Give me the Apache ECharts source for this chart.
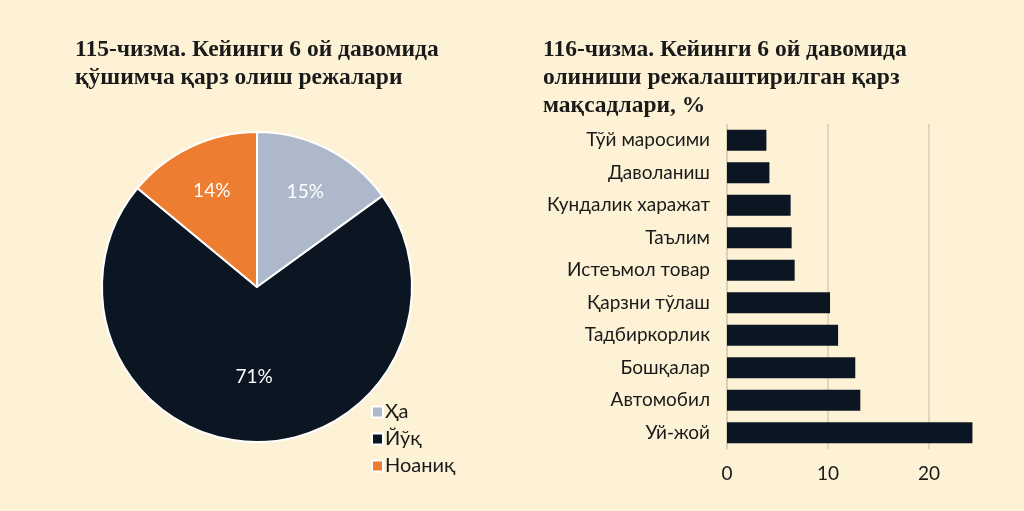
<!DOCTYPE html>
<html>
<head>
<meta charset="utf-8">
<script src="https://cdn.jsdelivr.net/npm/echarts@6/dist/echarts.min.js"></script>
<style>
  html, body { margin: 0; padding: 0; background: #fdf2d5; }
  #chart { width: 1024px; height: 511px; }
</style>
</head>
<body>
<div id="chart"></div>
<script>
// pie: 115-чизма
const pieNames = ['Ҳа', 'Йўқ', 'Ноаниқ'];
const pieValues = [15, 71, 14];
const pieColors = ['#adb9ca', '#0b1622', '#ed7d31'];

// bar: 116-чизма
const barCategories = [
  'Тўй маросими',
  'Даволаниш',
  'Кундалик харажат',
  'Таълим',
  'Истеъмол товар',
  'Қарзни тўлаш',
  'Тадбиркорлик',
  'Бошқалар',
  'Автомобил',
  'Уй-жой'
];
const barValues = [3.9, 4.2, 6.3, 6.4, 6.7, 10.2, 11.0, 12.7, 13.2, 24.3];

const pieCenter = [257, 287];
const pieRadius = 155;

const myChart = echarts.init(document.getElementById('chart'));

const titleStyle = {
  fontFamily: 'Liberation Serif',
  fontWeight: 'bold',
  fontSize: 23.5,
  lineHeight: 28,
  color: '#1a1a1a'
};

const option = {
  backgroundColor: '#fdf2d5',
  animation: false,
  title: [
    {
      text: '115-чизма. Кейинги 6 ой давомида\nқўшимча қарз олиш режалари',
      left: 70,
      top: 31,
      textStyle: titleStyle
    },
    {
      text: '116-чизма. Кейинги 6 ой давомида\nолиниши режалаштирилган қарз\nмақсадлари, %',
      left: 538,
      top: 31,
      textStyle: titleStyle
    }
  ],
  legend: {
    orient: 'vertical',
    left: 366,
    top: 397,
    itemWidth: 11,
    itemHeight: 11,
    itemGap: 7,
    icon: 'rect',
    data: pieNames,
    textStyle: {
      fontFamily: 'Lato',
      fontSize: 20,
      color: '#1a1a1a',
      padding: [0, 0, 0, -3]
    }
  },
  grid: {
    left: 727,
    width: 303,
    top: 124,
    bottom: 62,
    outerBoundsMode: 'none'
  },
  xAxis: {
    type: 'value',
    min: 0,
    max: 30,
    interval: 10,
    axisLine: { show: false },
    axisTick: { show: false },
    axisLabel: {
      showMaxLabel: false,
      margin: 15,
      fontFamily: 'Lato',
      fontSize: 19,
      color: '#1a1a1a'
    },
    splitLine: { lineStyle: { color: '#d8cdb3', width: 1.5 } }
  },
  yAxis: {
    type: 'category',
    inverse: true,
    data: barCategories,
    axisLine: { show: true, lineStyle: { color: '#d8cdb3', width: 1.5 } },
    axisTick: { show: false },
    axisLabel: {
      margin: 17,
      fontFamily: 'Lato',
      fontSize: 19,
      color: '#1a1a1a'
    }
  },
  series: [
    {
      type: 'pie',
      center: pieCenter,
      radius: pieRadius,
      startAngle: 90,
      clockwise: true,
      data: pieNames.map((n, i) => ({ name: n, value: pieValues[i], itemStyle: { color: pieColors[i] } })),
      itemStyle: { borderColor: '#ffffff', borderWidth: 2 },
      label: {
        position: 'inside',
        formatter: '{d}%',
        fontFamily: 'Lato',
        fontSize: 19,
        color: '#ffffff'
      },
      // push labels outward from the centre, like the original
      labelLayout: function (params) {
        const r = params.labelRect;
        const cx = r.x + r.width / 2;
        const cy = r.y + r.height / 2;
        const f = params.dataIndex === 1 ? 1.12 : 1.32;
        return {
          x: pieCenter[0] + (cx - pieCenter[0]) * f,
          y: pieCenter[1] + (cy - pieCenter[1]) * f,
          align: 'center',
          verticalAlign: 'middle'
        };
      }
    },
    {
      type: 'bar',
      data: barValues,
      barWidth: 21,
      itemStyle: { color: '#0b1622' }
    }
  ]
};

myChart.setOption(option);
</script>
</body>
</html>
